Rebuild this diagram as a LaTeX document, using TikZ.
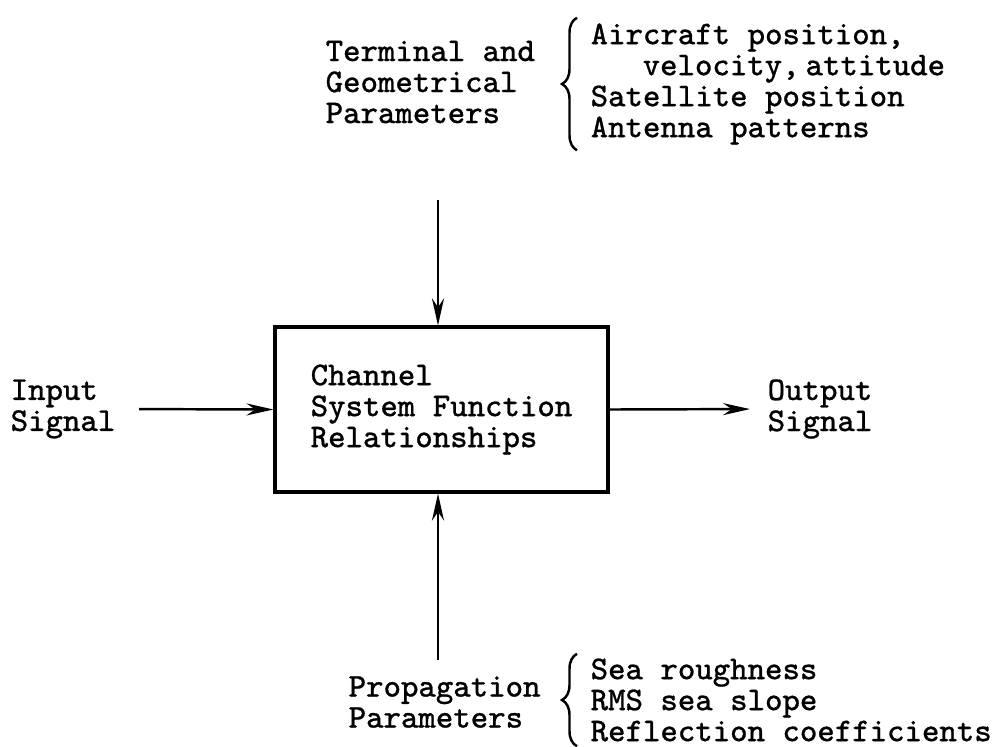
\documentclass[tikz,border=0pt]{standalone}
\usepackage{fontspec}
\setmonofont{Latin Modern Mono}[FakeBold=0.8]
\usepackage{tikz}
\usetikzlibrary{arrows.meta,positioning,decorations.pathreplacing}

\begin{document}
\begin{tikzpicture}[x=0.1mm, y=-0.1mm,
  font=\ttfamily\fontsize{9.45}{8.82}\selectfont, >={Stealth[length=2.7mm,width=1.2mm]},
  txt/.style={align=left, inner sep=0pt, anchor=west},
  blk/.style={draw, line width=0.9pt, minimum width=33.3mm, minimum height=16.5mm, align=left, inner sep=0pt},
  sig/.style={->, line width=0.7pt},
  brc/.style={decorate, decoration={brace, amplitude=1.5mm}, line width=0.7pt}]
  \useasboundingbox (0,0) rectangle (995,746);
  % channel block
  \node[blk] (chan) at (441.5,409.5) {Channel\\System Function\\Relationships};
  \node[txt] (in) at (10,409) {Input\\Signal};
  \node[txt] (out) at (767,409) {Output\\Signal};
  \draw[sig, shorten <=2.3mm] (in.east) -- (chan.west);
  \draw[sig, shorten >=1.7mm] (chan.east) -- (out.west);
  % terminal and geometrical parameters
  \node[txt] (geo) at (325,82) {Terminal and\\Geometrical\\Parameters};
  \node[txt] (geolist) at (590,84)
    {Aircraft position,\\\hspace*{5.2mm}velocity,\hspace{0.6mm}attitude\\Satellite position\\Antenna patterns};
  \draw[brc] ([xshift=-1.3mm,yshift=-0.5mm]geolist.south west) -- ([xshift=-1.3mm,yshift=0.5mm]geolist.north west);
  \coordinate (tsrc) at (438,200);
  \draw[sig] (tsrc) -- (tsrc |- chan.north);
  % propagation parameters
  \node[txt] (prop) at (348,702) {Propagation\\Parameters};
  \node[txt] (proplist) at (590,700) {Sea roughness\\RMS sea slope\\Reflection coefficients};
  \draw[brc] ([xshift=-1.3mm,yshift=-0.4mm]proplist.south west) -- ([xshift=-1.3mm,yshift=0.4mm]proplist.north west);
  \coordinate (bsrc) at (438,660);
  \draw[sig] (bsrc) -- (bsrc |- chan.south);
\end{tikzpicture}
\end{document}
